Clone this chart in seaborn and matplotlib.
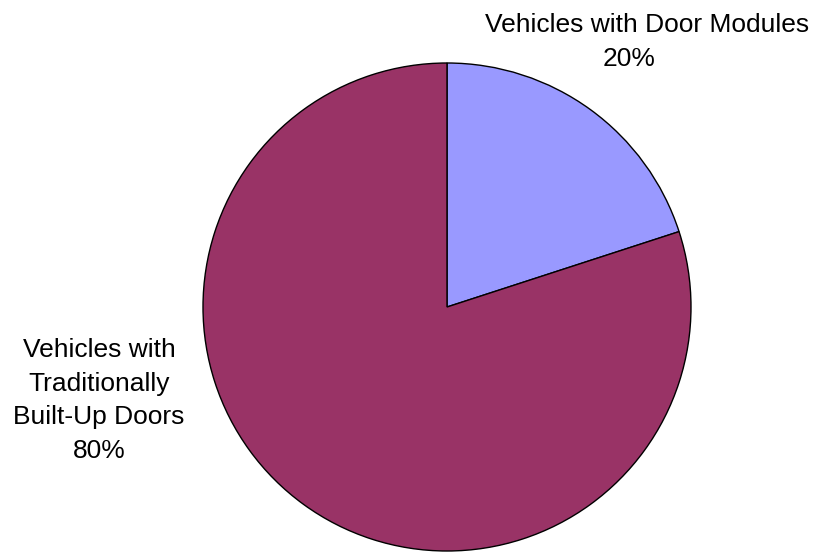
import matplotlib
matplotlib.use("Agg")
import matplotlib.pyplot as plt
import seaborn as sns

# Data
categories = ["Vehicles with Door Modules", "Vehicles with\nTraditionally\nBuilt-Up Doors"]
shares = [20, 80]
colors = ["#9999FF", "#993366"]

sns.set_style("white")
plt.rcParams["font.family"] = ["Liberation Sans", "DejaVu Sans"]

fig = plt.figure(figsize=(8.17, 5.52), dpi=100)
# place the pie so its centre/radius match the reference
ax = fig.add_axes([203 / 817, 1 / 552, 488 / 817, 488 / 552])

ax.pie(
    shares,
    colors=colors,
    startangle=90,
    counterclock=False,
    radius=1,
    wedgeprops={"edgecolor": "black", "linewidth": 1.0},
)
ax.set_xlim(-1, 1)
ax.set_ylim(-1, 1)
ax.set_aspect("equal")
ax.axis("off")

# label anchors (baseline of the first line), one x per line
label_x = [[0.82, 0.746], [-1.426] * 4]
label_y0 = [1.127, -0.205]
line_step = 0.138  # ~34 px between baselines

for name, val, xs, y0 in zip(categories, shares, label_x, label_y0):
    lines = name.split("\n") + [f"{val}%"]
    for i, (line, lx) in enumerate(zip(lines, xs)):
        ax.text(lx, y0 - i * line_step, line, ha="center", va="baseline",
                fontsize=19, color="black", clip_on=False)

fig.savefig("out.png", dpi=100)
